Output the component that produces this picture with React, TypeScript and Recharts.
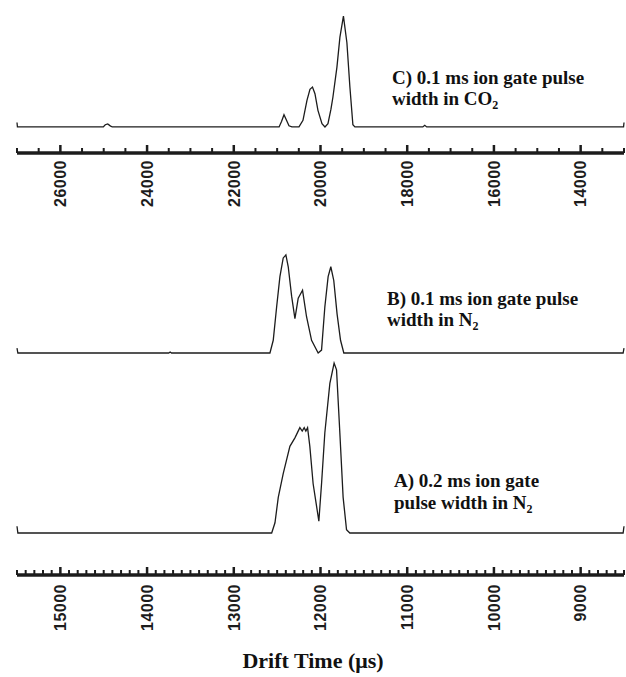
import React from "react"
import { LineChart, Line, XAxis, YAxis } from "recharts"

// C) CO2 trace, top axis (µs)
const cTime = [27000, 26990, 25010, 24964, 24907, 24849, 24803, 20955, 20899, 20842, 20784, 20727, 20658, 20496, 20404, 20312, 20243, 20185, 20128, 20059, 19966, 19897, 19828, 19759, 19713, 19621, 19552, 19471, 19391, 19322, 19253, 19207, 17640, 17596, 17550, 13010, 13000]
const cSignal = [4, 0, 0, 2, 2.7, 1, 0, 0, 5, 11, 6, 1, 0, 0, 6, 24, 34, 36, 30, 15, 3, 0, 3, 16, 27, 54, 81, 100, 76, 36, 2, 0, 0, 1.5, 0, 0, 4]

// B) 0.1 ms in N2
const bTime = [15500, 15490, 13750, 13734, 13718, 12583, 12545, 12506, 12468, 12430, 12399, 12372, 12333, 12295, 12257, 12207, 12161, 12103, 12027, 11988, 11950, 11912, 11881, 11847, 11809, 11769, 11731, 8510, 8500]
const bSignal = [5, 0, 0, 1, 0, 0, 13, 47, 78, 97, 100, 88, 58, 35, 56, 64, 37, 13, 0, 3, 47, 78, 88, 74, 40, 13, 0, 0, 5]

// A) 0.2 ms in N2
const aTime = [15500, 15490, 12563, 12525, 12487, 12430, 12353, 12295, 12238, 12211, 12188, 12169, 12149, 12123, 12085, 12019, 11988, 11950, 11892, 11843, 11815, 11777, 11739, 11700, 11662, 8510, 8500]
const aSignal = [4, 0, 0, 6, 21, 35, 51, 56, 62, 60, 62, 60, 62, 51, 29, 7, 29, 59, 88, 100, 96, 59, 21, 2, 0, 0, 4]

const topLabels = [26000, 24000, 22000, 20000, 18000, 16000, 14000]
const bottomLabels = [15000, 14000, 13000, 12000, 11000, 10000, 9000]

const topTicks = Array.from({ length: 29 }, (_, i) => 13000 + i * 500)
const bottomTicks = Array.from({ length: 71 }, (_, i) => 8500 + i * 100)

const cData = cTime.map((t, i) => ({ t, v: cSignal[i] }))
const bData = bTime.map((t, i) => ({ t, v: bSignal[i] }))
const aData = aTime.map((t, i) => ({ t, v: aSignal[i] }))

const INK = "#1c1c1c"
const serif = "'Liberation Serif', 'Times New Roman', serif"
const sans = "'Liberation Sans', Arial, sans-serif"

function AxisTick(props: any) {
  const { x, y, payload, labels, gap } = props
  const v = payload.value
  const isMajor = labels.includes(v)
  const len = isMajor ? 8 : 5
  return (
    <g>
      <line x1={x} x2={x} y1={y} y2={y - len} stroke={INK} strokeWidth={isMajor ? 2.5 : 2} />
      {isMajor && (
        <text
          x={x}
          y={y + gap}
          transform={`rotate(-90, ${x}, ${y + gap})`}
          textAnchor="end"
          dy="0.36em"
          fontFamily={sans}
          fontWeight="bold"
          fontSize={16}
          letterSpacing={0.5}
          fill={INK}
        >
          {v}
        </text>
      )}
    </g>
  )
}

const labelStyle = { fontFamily: serif, fontWeight: "bold" as const, fontSize: 19, fill: "#111" }

export default function App() {
  return (
    <div style={{ position: "absolute", left: 0, top: 0, width: 626, height: 677, background: "#fff" }}>
      <div style={{ position: "absolute", left: 0, top: 0 }}>
        <LineChart width={626} height={215} data={cData} margin={{ top: 10, right: 2, left: 17, bottom: 0 }}>
          <XAxis
            type="number"
            dataKey="t"
            domain={[13000, 27000]}
            reversed
            ticks={topTicks}
            interval={0}
            tickLine={false}
            tickSize={0}
            tickMargin={0}
            height={62}
            axisLine={{ stroke: INK, strokeWidth: 3.5 }}
            tick={(p: any) => <AxisTick {...p} labels={topLabels} gap={7} />}
          />
          <YAxis hide domain={[-23.5, 105.5]} />
          <Line type="linear" dataKey="v" stroke={INK} strokeWidth={1.3} dot={false} isAnimationActive={false} />
          <text x={392} y={84} {...labelStyle}>C) 0.1 ms ion gate pulse</text>
          <text x={392} y={105} {...labelStyle}>
            width in CO<tspan fontSize={12} dy={4}>2</tspan>
          </text>
        </LineChart>
      </div>
      <div style={{ position: "absolute", left: 0, top: 0 }}>
        <LineChart width={626} height={677} margin={{ top: 240, right: 2, left: 17, bottom: 2 }}>
          <XAxis
            type="number"
            dataKey="t"
            domain={[8500, 15500]}
            reversed
            ticks={bottomTicks}
            interval={0}
            tickLine={false}
            tickSize={0}
            tickMargin={0}
            height={100}
            axisLine={{ stroke: INK, strokeWidth: 3.5 }}
            tick={(p: any) => <AxisTick {...p} labels={bottomLabels} gap={9} />}
          />
          <YAxis yAxisId="a" hide domain={[-24.7, 172.4]} />
          <YAxis yAxisId="b" hide domain={[-226.5, 115.3]} />
          <Line yAxisId="b" data={bData} type="linear" dataKey="v" stroke={INK} strokeWidth={1.3} dot={false} isAnimationActive={false} />
          <Line yAxisId="a" data={aData} type="linear" dataKey="v" stroke={INK} strokeWidth={1.3} dot={false} isAnimationActive={false} />
          <text x={387} y={305} {...labelStyle}>B) 0.1 ms ion gate pulse</text>
          <text x={387} y={326} {...labelStyle}>
            width in N<tspan fontSize={12} dy={4}>2</tspan>
          </text>
          <text x={394} y={487} {...labelStyle}>A) 0.2 ms ion gate</text>
          <text x={394} y={509} {...labelStyle}>
            pulse width in N<tspan fontSize={12} dy={4}>2</tspan>
          </text>
          <text x={313} y={668} textAnchor="middle" fontFamily={serif} fontWeight="bold" fontSize={22} fill="#111">
            Drift Time (μs)
          </text>
        </LineChart>
      </div>
    </div>
  )
}
